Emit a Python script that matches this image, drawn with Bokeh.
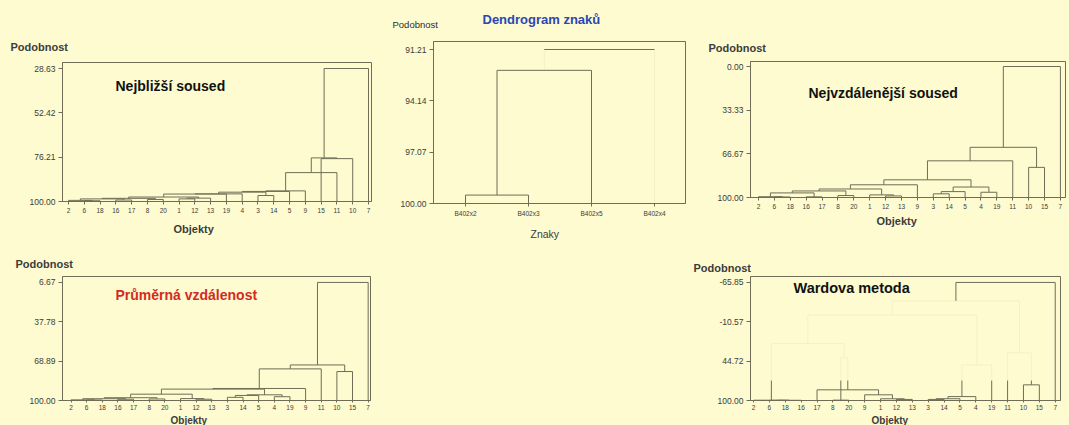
from bokeh.plotting import figure
from bokeh.layouts import row, column
from bokeh.models import Range1d, FixedTicker, PrintfTickFormatter, Label, Title
from bokeh.embed import file_html
from bokeh.resources import INLINE

BG = "#fdfbcf"
INK = "#6f6d57"
FAINT = "#f4f1c6"
TXT = "#3c3c3c"
FONT = "Liberation Sans"

# ---------------- data ----------------
# Nejbližší soused (single linkage)
nn_leaves = ["2", "6", "18", "16", "17", "8", "20", "1", "12", "13",
             "19", "4", "3", "14", "5", "9", "15", "11", "10", "7"]
nn_left = [1, 0, 3, 21, 5, 23, 7, 26, 25, 28, 29, 12, 30, 32, 33, 34, 16, 35, 37]
nn_right = [2, 20, 4, 22, 6, 24, 8, 9, 27, 10, 11, 13, 31, 14, 15, 17, 18, 36, 19]
nn_height = [99.6, 99.4, 99.2, 98.6, 98.9, 98.3, 98.6, 98.2, 97.6, 96.0,
             95.9, 96.8, 95.0, 94.6, 94.3, 84.5, 77.0, 76.6, 28.63]
nn_ticks = [28.63, 52.42, 76.21, 100.00]

# Dendrogram znaků
zn_leaves = ["B402x2", "B402x3", "B402x5", "B402x4"]
zn_left = [0, 4, 5]
zn_right = [1, 2, 3]
zn_height = [99.52, 92.4, 91.21]
zn_ticks = [91.21, 94.14, 97.07, 100.00]

# Nejvzdálenější soused (complete linkage)
fn_leaves = ["2", "6", "18", "16", "17", "8", "20", "1", "12", "13",
             "9", "3", "14", "5", "4", "19", "11", "10", "15", "7"]
fn_left = [1, 0, 3, 21, 5, 23, 8, 7, 25, 28, 11, 14, 30, 32, 29, 34, 17, 35, 37]
fn_right = [2, 20, 4, 22, 6, 24, 9, 26, 27, 10, 12, 15, 13, 31, 33, 16, 18, 36, 19]
fn_height = [99.6, 99.4, 99.5, 96.5, 98.5, 95.0, 98.8, 98.0, 93.5, 90.3,
             97.2, 96.0, 95.5, 92.0, 86.5, 72.0, 77.0, 61.7, 0.0]
fn_ticks = [0.00, 33.33, 66.67, 100.00]

# Průměrná vzdálenost (average linkage)
av_leaves = ["2", "6", "18", "16", "17", "8", "20", "1", "12", "13",
             "3", "14", "5", "4", "19", "9", "11", "10", "15", "7"]
av_left = [1, 0, 3, 21, 5, 23, 8, 7, 25, 10, 29, 13, 30, 28, 33, 34, 17, 35, 37]
av_right = [2, 20, 4, 22, 6, 24, 9, 26, 27, 11, 12, 14, 31, 32, 15, 16, 18, 36, 19]
av_height = [99.6, 99.5, 99.0, 98.6, 98.8, 97.8, 99.0, 98.5, 95.0, 97.5,
             96.0, 97.0, 95.5, 91.0, 90.5, 75.0, 77.1, 71.9, 6.67]
av_ticks = [6.67, 37.78, 68.89, 100.00]

# Wardova metoda
wa_leaves = ["2", "6", "18", "16", "17", "8", "20", "9", "1", "12",
             "13", "3", "14", "5", "4", "19", "11", "10", "15", "7"]
wa_left = [1, 20, 0, 5, 9, 8, 7, 4, 23, 22, 11, 30, 31, 32, 29, 17, 16, 34, 37]
wa_right = [2, 3, 21, 6, 10, 24, 25, 26, 27, 28, 12, 13, 14, 15, 33, 18, 35, 36, 19]
wa_height = [99.8, 99.7, 99.6, 99.5, 98.5, 97.6, 92.0, 85.0, 40.0, 20.0,
             98.5, 97.5, 94.5, 50.0, -20.0, 78.0, 33.0, -40.0, -65.85]
wa_ticks = [-65.85, -10.57, 44.72, 100.00]


def tree_segments(n, left, right, height):
    xs = [float(i) for i in range(n)]
    hs = [100.0] * n
    segs = []
    for k, (a, b, h) in enumerate(zip(left, right, height)):
        xa, xb, ha, hb = xs[a], xs[b], hs[a], hs[b]
        segs.append(("v", xa, ha, xa, h, k))
        segs.append(("v", xb, hb, xb, h, k))
        segs.append(("h", xa, h, xb, h, k))
        xs.append((xa + xb) / 2.0)
        hs.append(h)
    return segs


def blank(w, h):
    b = figure(width=w, height=h, x_range=Range1d(0, 1), y_range=Range1d(0, 1),
               x_axis_type=None, y_axis_type=None,
               title=None, toolbar_location=None, output_backend="svg", min_border=0)
    b.background_fill_color = BG
    b.border_fill_color = BG
    b.outline_line_color = None
    b.grid.visible = False
    return b


def panel(fig_x, fig_y, w, h, frame, leaf0, step, top_val, top_px, leaves, ticks,
          ytitle, ytitle_x, ytitle_standoff, xtitle, xtitle_x, xtitle_standoff,
          xtitle_size="11px", xtitle_bold=True, tight=False):
    fl, ft, fr, fb = frame
    a = leaf0 - fl
    xr = Range1d(-a / step, (fr - fl - a) / step)
    k = (fb - top_px) / (100.0 - top_val)
    yr = Range1d(100.0, 100.0 - (fb - ft) / k)
    p = figure(width=w, height=h, x_range=xr, y_range=yr,
               title=ytitle if ytitle else None,
               toolbar_location=None, output_backend="svg",
               min_border_left=fl - fig_x, min_border_right=fig_x + w - fr,
               min_border_top=ft - fig_y, min_border_bottom=fig_y + h - fb)
    if ytitle:
        p.title.align = "left"
        p.title.offset = ytitle_x - fl
        p.title.standoff = ytitle_standoff
        p.title.text_font = FONT
        p.title.text_font_size = "11px"
        p.title.text_color = TXT
        p.title.text_font_style = "bold"
    p.background_fill_color = BG
    p.border_fill_color = BG
    p.outline_line_color = INK
    p.outline_line_width = 1
    p.xgrid.visible = False
    p.ygrid.visible = False
    ya = p.yaxis[0]
    ya.ticker = FixedTicker(ticks=ticks)
    ya.formatter = PrintfTickFormatter(format="%.2f")
    ya.major_tick_out = 4
    ya.major_tick_in = 0
    ya.minor_tick_line_color = None
    ya.axis_line_color = INK
    ya.major_tick_line_color = INK
    ya.major_label_text_font = FONT
    ya.major_label_text_font_size = "8.5px"
    ya.major_label_text_color = TXT
    ya.major_label_standoff = 3
    xa = p.xaxis[0]
    xa.ticker = FixedTicker(ticks=list(range(len(leaves))))
    xa.major_label_overrides = {i: s for i, s in enumerate(leaves)}
    xa.major_tick_out = 2 if tight else 3
    xa.major_tick_in = 0
    xa.minor_tick_line_color = None
    xa.axis_line_color = INK
    xa.major_tick_line_color = INK
    xa.major_label_text_font = FONT
    xa.major_label_text_font_size = "6.5px"
    xa.major_label_text_color = TXT
    xa.major_label_standoff = 2 if tight else 3
    xt = Title(text=xtitle, align="left", offset=xtitle_x - fl, standoff=xtitle_standoff,
               text_font=FONT, text_font_size=xtitle_size, text_color=TXT,
               text_font_style="bold" if xtitle_bold else "normal")
    p.add_layout(xt, "below")
    return p


def draw(p, segs, style):
    cols = {INK: ([], [], [], []), FAINT: ([], [], [], [])}
    for seg in segs:
        for (x0, y0, x1, y1, c) in style(seg):
            d = cols[c]
            d[0].append(x0); d[1].append(y0); d[2].append(x1); d[3].append(y1)
    for c in (FAINT, INK):
        d = cols[c]
        if d[0]:
            p.segment(x0=d[0], y0=d[1], x1=d[2], y1=d[3], line_color=c, line_width=1)


def plain(seg):
    _, x0, y0, x1, y1, _k = seg
    return [(x0, y0, x1, y1, INK)]


def lab(p, fl, fb, X, Y, text, size, color=TXT, bold=False, align="left"):
    p.add_layout(Label(x=X - fl, y=fb - Y, x_units="screen", y_units="screen",
                       text=text, text_font=FONT, text_font_size=size,
                       text_color=color, text_align=align, text_baseline="middle",
                       text_font_style="bold" if bold else "normal"))


bgs = {"background-color": BG}


def solo(*items):
    # wrap in its own column so that Bokeh does not align frames across siblings
    return column(*items, styles=bgs)


# ---- panel 1
f1 = (62, 62, 371, 201)
p1 = panel(0, 0, 372, 245, f1, 68, 15.79, 28.63, 68, nn_leaves, nn_ticks,
           "Podobnost", 10, 20, "Objekty", 173, 10)
draw(p1, tree_segments(len(nn_leaves), nn_left, nn_right, nn_height), plain)
lab(p1, f1[0], f1[3], 115, 85, "Nejbližší soused", "14px", color="#111111", bold=True)

# ---- panel 2 (header strip + plot)
TOPH = 34
p2top = blank(323, TOPH)
lab(p2top, 372, TOPH, 392, 24, "Podobnost", "9.5px", color="#2e2e2e")
lab(p2top, 372, TOPH, 482, 19, "Dendrogram znaků", "13px", color="#2b46b5", bold=True)

f2 = (433, 41, 685, 203)
p2 = panel(372, TOPH, 323, 245 - TOPH, f2, 465, 63, 91.21, 49, zn_leaves, zn_ticks,
           None, 0, 0, "Znaky", 530, 12, xtitle_size="10.5px", xtitle_bold=False)
last2 = len(zn_height) - 1


def zn_style(seg):
    kind, x0, y0, x1, y1, k = seg
    if k == last2 and kind == "v":
        return [(x0, y0, x1, y1, FAINT)]
    return [(x0, y0, x1, y1, INK)]


draw(p2, tree_segments(len(zn_leaves), zn_left, zn_right, zn_height), zn_style)

# ---- panel 3
f3 = (750, 61, 1065, 197)
p3 = panel(695, 0, 374, 245, f3, 758, 15.89, 0.0, 66, fn_leaves, fn_ticks,
           "Podobnost", 708, 16, "Objekty", 876, 2)
draw(p3, tree_segments(len(fn_leaves), fn_left, fn_right, fn_height), plain)
lab(p3, f3[0], f3[3], 808, 92, "Nejvzdálenější soused", "14px", color="#111111", bold=True)

# ---- panel 4
f4 = (62, 276, 370, 401)
p4 = panel(0, 245, 372, 180, f4, 70.5, 15.64, 6.67, 282, av_leaves, av_ticks,
           "Podobnost", 15, 14, "Objekty", 170, 0, xtitle_size="10px", tight=True)
draw(p4, tree_segments(len(av_leaves), av_left, av_right, av_height), plain)
lab(p4, f4[0], f4[3], 115, 295, "Průměrná vzdálenost", "14px", color="#d42a1f", bold=True)

# ---- middle blank
pm = blank(308, 180)

# ---- panel 5
f5 = (750, 276, 1060, 401)
p5 = panel(680, 245, 389, 180, f5, 753, 15.88, -65.85, 282, wa_leaves, wa_ticks,
           "Podobnost", 693, 6, "Objekty", 871, 0, xtitle_size="10px", tight=True)
last5 = len(wa_height) - 1
THR = 72.0


def wa_style(seg):
    kind, x0, y0, x1, y1, k = seg
    if k == last5:
        return [(x0, y0, x1, y1, INK)]
    if kind == "h":
        return [(x0, y0, x1, y1, INK if y0 >= THR else FAINT)]
    lo, hi = y0, y1
    if hi >= THR:
        return [(x0, lo, x1, hi, INK)]
    if lo <= THR:
        return [(x0, lo, x1, hi, FAINT)]
    return [(x0, lo, x1, THR, INK), (x0, THR, x1, hi, FAINT)]


draw(p5, tree_segments(len(wa_leaves), wa_left, wa_right, wa_height), wa_style)
lab(p5, f5[0], f5[3], 793, 288, "Wardova metoda", "14.5px", color="#111111", bold=True)

layout = column(
    row(solo(p1), solo(solo(p2top), solo(p2)), solo(p3), styles=bgs),
    row(solo(p4), solo(pm), solo(p5), styles=bgs),
    styles=bgs)
open("out.html", "w").write(file_html(layout, INLINE))
